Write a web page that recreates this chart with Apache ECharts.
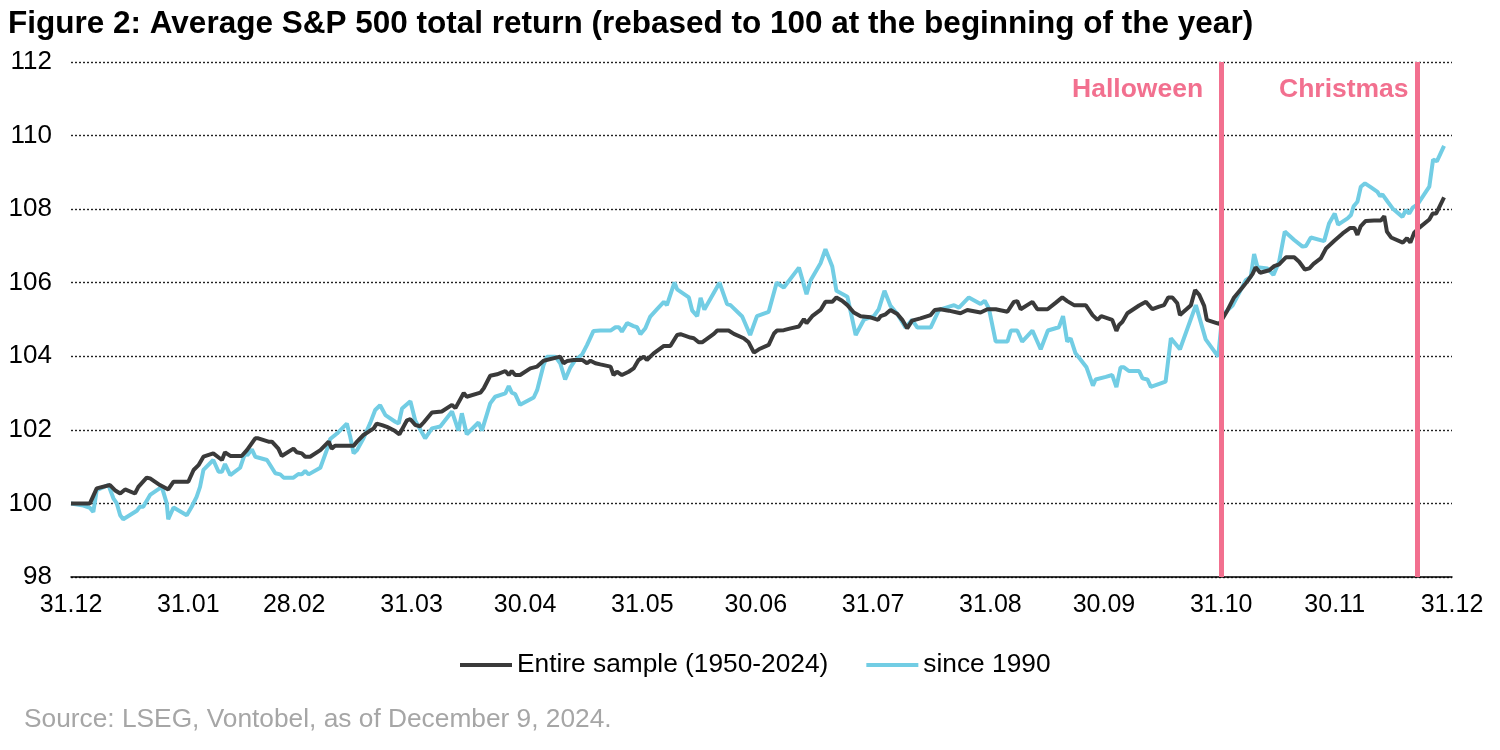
<!DOCTYPE html>
<html>
<head>
<meta charset="utf-8">
<script src="https://cdn.jsdelivr.net/npm/echarts@6/dist/echarts.min.js"></script>
<style>
html,body{margin:0;padding:0;background:#fff;}
#chart{width:1500px;height:750px;}
</style>
</head>
<body>
<div id="chart"></div>
<script>
// x positions are days since 31.12 of the previous year
const xLabelDays = [0,31,59,90,120,151,181,212,243,273,304,334,365];
const xLabels = ['31.12','31.01','28.02','31.03','30.04','31.05','30.06','31.07','31.08','30.09','31.10','30.11','31.12'];
const yTicks = [98,100,102,104,106,108,110,112];

const eventNames = ['Halloween','Christmas'];
const eventDays = [304, 355.7];
const eventLabelDays = [281.9, 336.4];
const eventLabelValue = 111.26;

const entireDays = [0,5.0,6.8,10.3,11.6,13.0,14.3,16.9,17.8,20.0,20.9,23.5,25.7,27.1,31.0,32.4,33.7,35.0,37.6,39.9,40.7,42.1,45.1,46.5,48.7,49.5,52.2,53.1,54.8,55.7,58.8,59.7,61.0,61.9,63.2,65.9,68.1,68.9,69.8,74.7,75.6,77.3,80.0,80.8,82.2,83.5,85.3,86.8,88.8,89.7,91.0,92.3,93.2,95.4,98.0,100.7,101.6,103.8,104.6,108.2,109.1,110.8,112.6,114.8,115.7,116.5,117.4,118.7,121.4,123.2,124.9,129.3,130.2,131.1,132.9,135.1,136.4,137.3,138.6,139.9,142.6,143.4,144.3,145.6,147.4,148.7,150.0,151.4,152.2,154.0,156.7,158.4,160.2,161.1,163.7,164.6,165.9,166.8,169.9,170.8,173.8,175.2,177.8,179.1,180.5,181.8,184.4,185.8,186.6,188.4,190.2,192.4,193.7,194.4,195.9,198.1,199.4,201.2,202.3,203.8,205.2,206.9,208.7,211.3,213.3,214.0,215.3,216.6,218.4,219.7,221.0,222.3,224.5,227.2,228.3,229.8,232.0,235.1,236.9,240.4,242.2,244.4,247.5,249.2,250.1,251.0,254.1,255.4,258.1,260.3,262.0,263.3,265.1,268.2,270.0,271.3,272.3,275.2,276.3,277.0,277.9,279.2,282.3,284.1,285.8,287.6,288.9,290.0,291.1,292.4,293.1,296.0,297.1,298.2,299.5,300.2,302.6,303.5,305.6,307.4,309.6,311.0,312.3,313.1,314.3,316.7,318.0,319.3,321.1,323.3,324.6,326.1,327.3,328.4,330.3,331.7,333.9,336.1,338.1,339.2,340.0,340.9,342.2,344.4,346.2,347.1,347.8,348.9,352.0,353.1,354.0,355.0,356.3,359.0,359.9,360.8,362.9];
const entireValues = [100.00,100.00,100.41,100.50,100.36,100.27,100.38,100.27,100.45,100.70,100.68,100.50,100.38,100.59,100.59,100.91,101.04,101.27,101.36,101.18,101.39,101.29,101.29,101.45,101.77,101.77,101.68,101.68,101.49,101.29,101.49,101.39,101.36,101.27,101.27,101.45,101.68,101.49,101.57,101.57,101.68,101.86,102.04,102.17,102.13,102.08,101.99,101.88,102.26,102.29,102.13,102.10,102.20,102.47,102.50,102.68,102.59,103.00,102.90,103.01,103.13,103.47,103.51,103.60,103.49,103.60,103.49,103.49,103.67,103.72,103.88,103.99,103.81,103.87,103.90,103.90,103.81,103.88,103.81,103.78,103.72,103.49,103.58,103.49,103.58,103.67,103.90,103.99,103.90,104.08,104.28,104.28,104.58,104.60,104.51,104.49,104.38,104.38,104.61,104.70,104.70,104.61,104.49,104.38,104.10,104.19,104.31,104.62,104.70,104.71,104.76,104.81,105.01,104.90,105.09,105.26,105.48,105.48,105.60,105.51,105.39,105.19,105.09,105.06,104.99,105.09,105.14,105.26,105.15,104.99,104.76,104.97,105.03,105.12,105.26,105.28,105.24,105.17,105.26,105.19,105.28,105.28,105.21,105.48,105.50,105.28,105.48,105.28,105.28,105.46,105.60,105.50,105.39,105.39,105.12,104.99,105.09,104.99,104.69,104.85,104.94,105.17,105.38,105.48,105.28,105.35,105.39,105.60,105.60,105.44,105.12,105.39,105.80,105.67,105.37,104.99,104.91,104.88,105.24,105.60,105.87,106.05,106.24,106.42,106.27,106.34,106.45,106.50,106.69,106.69,106.57,106.36,106.39,106.51,106.66,106.93,107.14,107.34,107.49,107.49,107.30,107.54,107.68,107.69,107.69,107.81,107.39,107.23,107.09,107.21,107.09,107.36,107.49,107.72,107.88,107.88,108.32];

const since1990Days = [0,3.3,5.0,5.9,6.8,9.9,11.2,12.1,13.0,13.8,17.4,18.2,19.1,20.9,24.0,25.3,25.7,27.1,30.6,31.9,33.2,34.1,35.0,37.6,39.0,39.9,40.7,42.1,44.7,46.0,46.6,47.8,48.7,51.8,54.0,55.3,56.2,58.8,60.1,61.0,61.9,62.8,65.9,67.6,68.5,70.3,72.9,73.8,74.7,75.6,77.3,79.1,80.4,81.7,83.1,85.7,86.6,87.5,89.7,91.0,93.6,95.4,97.6,100.7,102.4,103.3,104.6,107.7,108.6,110.8,112.1,114.8,115.7,116.5,117.4,118.7,122.3,123.2,124.9,125.8,128.0,129.3,130.6,132.0,133.3,135.1,136.4,138.1,139.9,142.6,143.9,144.8,145.6,147.0,148.7,149.6,150.5,151.8,153.1,154.9,156.7,157.5,159.5,160.2,163.3,164.2,165.5,166.4,167.4,171.4,173.4,174.3,177.4,179.5,181.3,184.4,186.5,188.4,192.4,194.4,195.5,198.1,199.4,201.2,202.3,205.2,207.4,209.6,212.2,213.5,215.0,216.6,218.4,220.6,222.3,223.7,227.2,229.4,233.4,234.7,237.3,240.4,241.5,242.6,244.4,247.5,248.4,250.1,251.4,254.1,256.3,258.2,261.1,262.2,263.3,264.2,265.5,266.9,268.4,270.1,270.8,273.5,275.2,276.3,277.4,278.3,279.6,282.3,283.2,284.5,285.4,289.3,290.7,293.1,297.3,299.9,303.2,304.3,307.0,308.7,310.5,311.8,312.7,313.6,316.2,317.8,319.3,320.8,323.3,325.5,326.4,327.7,331.2,332.5,334.0,334.9,337.4,338.3,339.0,340.0,340.9,342.0,343.6,345.3,346.0,346.6,348.0,349.3,351.9,352.8,353.7,354.6,355.9,359.0,360.0,361.0,362.9];
const since1990Values = [100.00,99.94,99.88,99.77,100.36,100.50,100.14,100.00,99.68,99.57,99.80,99.91,99.91,100.23,100.45,100.00,99.57,99.89,99.68,99.91,100.18,100.45,100.91,101.18,100.86,100.86,101.07,100.77,100.97,101.36,101.31,101.47,101.27,101.18,100.82,100.79,100.70,100.70,100.80,100.79,100.88,100.79,100.97,101.45,101.75,101.90,102.17,101.81,101.36,101.45,101.77,102.19,102.54,102.67,102.40,102.22,102.17,102.58,102.78,102.25,101.77,102.04,102.09,102.50,101.98,102.45,101.88,102.20,101.98,102.72,102.90,102.99,103.19,103.01,102.97,102.68,102.88,103.08,103.76,103.99,103.99,103.81,103.37,103.70,103.90,104.05,104.31,104.69,104.70,104.70,104.79,104.79,104.67,104.90,104.82,104.79,104.60,104.76,105.08,105.28,105.48,105.39,106.01,105.82,105.60,105.24,105.09,105.59,105.27,106.00,105.42,105.39,105.08,104.58,105.09,105.21,106.00,105.87,106.41,105.69,106.07,106.53,106.91,106.44,105.78,105.62,104.58,105.00,105.09,105.28,105.78,105.37,105.15,104.78,104.99,104.78,104.78,105.26,105.39,105.32,105.60,105.42,105.51,105.30,104.40,104.40,104.70,104.70,104.40,104.70,104.19,104.70,104.79,105.09,104.40,104.49,104.08,103.90,103.70,103.20,103.37,103.44,103.49,103.16,103.70,103.70,103.60,103.60,103.40,103.37,103.17,103.31,104.49,104.19,105.39,104.46,103.99,105.12,105.38,105.71,106.07,106.16,106.78,106.42,106.39,106.21,106.57,107.39,107.16,106.98,107.00,107.23,107.13,107.61,107.88,107.58,107.75,107.84,108.08,108.20,108.61,108.70,108.59,108.47,108.35,108.40,108.20,108.02,107.79,107.97,107.88,108.04,108.13,108.61,109.35,109.30,109.72];

const zip = (xs, ys) => xs.map((x, i) => [x, ys[i]]);

const FONT = 'Liberation Sans, Arial, sans-serif';
const PINK = '#f2708f';

const chart = echarts.init(document.getElementById('chart'), null, {renderer: 'canvas'});
chart.setOption({
  animation: false,
  backgroundColor: '#ffffff',
  textStyle: {fontFamily: FONT},
  title: [
    {
      text: 'Figure 2: Average S&P 500 total return (rebased to 100 at the beginning of the year)',
      left: 3, top: 3,
      textStyle: {fontFamily: FONT, fontSize: 31.5, fontWeight: 'bold', color: '#000'}
    },
    {
      text: 'Source: LSEG, Vontobel, as of December 9, 2024.',
      left: 19, top: 702,
      textStyle: {fontFamily: FONT, fontSize: 26.3, fontWeight: 'normal', color: '#a6a6a6'}
    }
  ],
  legend: {
    left: 455,
    top: 647,
    icon: 'rect',
    itemWidth: 52,
    itemHeight: 4,
    itemGap: 38,
    textStyle: {fontFamily: FONT, fontSize: 26.3, color: '#000'},
    data: ['Entire sample (1950-2024)', 'since 1990']
  },
  grid: {left: 71, right: 48, top: 62, bottom: 173, containLabel: false},
  xAxis: {
    type: 'value',
    min: 0,
    max: 365,
    axisLine: {show: true, lineStyle: {color: '#000', width: 1.5}},
    axisTick: {show: false},
    splitLine: {show: false},
    axisLabel: {
      customValues: xLabelDays,
      margin: 16,
      fontFamily: FONT,
      fontSize: 25,
      color: '#000',
      formatter: function (v) {
        const i = xLabelDays.indexOf(v);
        return i >= 0 ? xLabels[i] : '';
      }
    }
  },
  yAxis: {
    type: 'value',
    min: yTicks[0],
    max: yTicks[yTicks.length - 1],
    interval: 2,
    axisLine: {show: false},
    axisTick: {show: false},
    axisLabel: {margin: 19, fontFamily: FONT, fontSize: 26, color: '#000'},
    splitLine: {show: true, lineStyle: {type: [2, 2], color: '#222', width: 1.4}}
  },
  series: [
    {
      name: 'Entire sample (1950-2024)',
      type: 'line',
      symbol: 'none',
      z: 3,
      color: '#3a3a3a',
      lineStyle: {color: '#3a3a3a', width: 4},
      data: zip(entireDays, entireValues),
      markLine: {
        silent: true,
        symbol: ['none', 'none'],
        label: {show: false},
        lineStyle: {type: 'solid', color: PINK, width: 5},
        data: eventDays.map(d => ({xAxis: d}))
      },
      markPoint: {
        symbol: 'circle',
        symbolSize: 0,
        label: {
          show: true,
          position: 'inside',
          fontFamily: FONT,
          fontSize: 26.5,
          fontWeight: 'bold',
          color: PINK,
          formatter: p => p.name
        },
        data: eventNames.map((n, i) => ({name: n, coord: [eventLabelDays[i], eventLabelValue]}))
      }
    },
    {
      name: 'since 1990',
      type: 'line',
      symbol: 'none',
      z: 2,
      color: '#72cde4',
      lineStyle: {color: '#72cde4', width: 4},
      data: zip(since1990Days, since1990Values)
    }
  ]
});
</script>
</body>
</html>
